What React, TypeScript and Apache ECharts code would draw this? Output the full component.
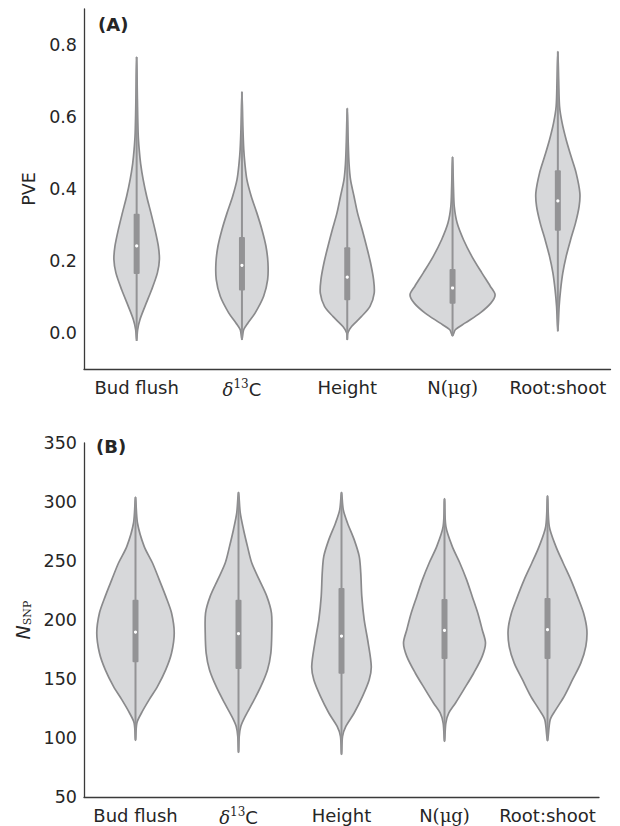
import React, { useEffect, useRef } from 'react';
import * as echarts from 'echarts';

// ---------- data ----------
const categories = ['Bud flush', 'δ13C', 'Height', 'N(μg)', 'Root:shoot'];
const categoryLabels = ['Bud flush', '{d|δ}{sup|13}C', 'Height', 'N{m|(μg)}', 'Root:shoot'];

const pveTicks = [0.0, 0.2, 0.4, 0.6, 0.8];
const nsnpTicks = [50, 100, 150, 200, 250, 300, 350];

// Violin profiles: [value, half-width as fraction of category band]
const pveBudFlush = [[-0.02, 0], [0.009, 0.009], [0.037, 0.031], [0.074, 0.079], [0.12, 0.142], [0.167, 0.197], [0.204, 0.216], [0.241, 0.206], [0.287, 0.174], [0.333, 0.136], [0.38, 0.095], [0.426, 0.062], [0.47, 0.038], [0.51, 0.024], [0.555, 0.014], [0.65, 0.007], [0.767, 0]];
const pveD13C = [[-0.018, 0], [0.009, 0.016], [0.028, 0.057], [0.056, 0.126], [0.102, 0.206], [0.148, 0.244], [0.195, 0.247], [0.241, 0.228], [0.287, 0.19], [0.333, 0.142], [0.38, 0.088], [0.426, 0.047], [0.47, 0.028], [0.51, 0.017], [0.57, 0.009], [0.67, 0]];
const pveHeight = [[-0.018, 0], [0.0, 0.005], [0.018, 0.041], [0.046, 0.136], [0.074, 0.216], [0.111, 0.256], [0.148, 0.25], [0.195, 0.221], [0.241, 0.183], [0.287, 0.142], [0.333, 0.098], [0.38, 0.064], [0.426, 0.031], [0.47, 0.017], [0.53, 0.009], [0.624, 0]];
const pveN = [[-0.008, 0], [0.009, 0.026], [0.028, 0.121], [0.056, 0.263], [0.083, 0.364], [0.106, 0.404], [0.13, 0.358], [0.167, 0.278], [0.213, 0.183], [0.259, 0.104], [0.306, 0.043], [0.352, 0.016], [0.4, 0.009], [0.489, 0]];
const pveRootShoot = [[0.005, 0], [0.074, 0.012], [0.12, 0.026], [0.167, 0.047], [0.213, 0.079], [0.259, 0.121], [0.306, 0.168], [0.352, 0.202], [0.389, 0.209], [0.444, 0.174], [0.49, 0.126], [0.537, 0.079], [0.583, 0.041], [0.63, 0.016], [0.7, 0.008], [0.782, 0]];

// [whisker low, q1, median, q3, whisker high]
const pveBoxes = [
  [-0.022, 0.164, 0.242, 0.331, 0.767],
  [-0.019, 0.118, 0.188, 0.267, 0.67],
  [-0.019, 0.091, 0.155, 0.238, 0.624],
  [-0.008, 0.081, 0.125, 0.178, 0.489],
  [0.005, 0.284, 0.367, 0.452, 0.782],
];

const snpBudFlush = [[98, 0], [112.7, 0.013], [121.2, 0.058], [132.5, 0.133], [143.7, 0.214], [157.9, 0.294], [172, 0.35], [189, 0.376], [205.9, 0.35], [220, 0.294], [234.2, 0.23], [248.3, 0.165], [262.4, 0.084], [282.2, 0.019], [304.2, 0]];
const snpD13C = [[87.8, 0], [101.4, 0.007], [109.8, 0.022], [118.3, 0.065], [129.7, 0.136], [143.7, 0.217], [157.9, 0.282], [172, 0.314], [189, 0.323], [205.9, 0.32], [220, 0.275], [234.2, 0.201], [248.3, 0.129], [262.4, 0.087], [276.5, 0.049], [290.7, 0.017], [308.2, 0]];
const snpHeight = [[86.1, 0], [101.4, 0.01], [109.8, 0.042], [121.2, 0.123], [135.3, 0.204], [149.4, 0.269], [160.7, 0.289], [180.5, 0.259], [200.3, 0.22], [220, 0.197], [239.8, 0.187], [253.9, 0.172], [268.1, 0.123], [282.2, 0.058], [293.5, 0.017], [308.2, 0]];
const snpN = [[97.1, 0], [112.7, 0.013], [121.2, 0.042], [129.7, 0.107], [141, 0.187], [155.1, 0.284], [169.2, 0.366], [180.5, 0.398], [191.8, 0.366], [205.9, 0.323], [220, 0.269], [234.2, 0.214], [248.3, 0.149], [262.4, 0.075], [279.3, 0.013], [302.8, 0]];
const snpRootShoot = [[97.7, 0], [115.5, 0.026], [124, 0.081], [135.3, 0.162], [149.4, 0.243], [163.4, 0.323], [177.6, 0.372], [191.8, 0.382], [205.9, 0.35], [220, 0.291], [234.2, 0.226], [248.3, 0.152], [262.4, 0.081], [279.3, 0.017], [305.3, 0]];

const snpBoxes = [
  [98.0, 164.1, 189.8, 217.2, 304.2],
  [87.8, 158.5, 188.4, 217.2, 308.2],
  [86.1, 154.5, 186.4, 227.1, 308.2],
  [97.1, 166.9, 191.2, 217.8, 302.8],
  [97.7, 166.9, 191.8, 218.6, 305.3],
];

const pveProfiles = [pveBudFlush, pveD13C, pveHeight, pveN, pveRootShoot];
const snpProfiles = [snpBudFlush, snpD13C, snpHeight, snpN, snpRootShoot];

// ---------- style ----------
const FILL = '#d7d8da';
const EDGE = '#8a8a8c';
const BOX = '#939395';
const AXIS = '#3a3a3a';
const TEXT = '#262626';
const SANS = 'DejaVu Sans';
const SERIF = 'DejaVu Serif';

function makeRenderItem(profiles: number[][][], boxes: number[][]) {
  return (params: any, api: any) => {
    const i = api.value(0);
    const prof = profiles[i];
    const box = boxes[i];
    const band = api.size([1, 0])[0];
    const cx = api.coord([i, 0])[0];
    const yOf = (v: number) => api.coord([i, v])[1];
    const right = prof.map(([v, w]) => [cx + w * band, yOf(v)]);
    const left = prof.slice(1, -1).reverse().map(([v, w]) => [cx - w * band, yOf(v)]);
    const pts = right.concat(left);
    return {
      type: 'group',
      children: [
        {
          type: 'polygon',
          shape: { points: pts, smooth: 0.3 },
          style: { fill: FILL, stroke: EDGE, lineWidth: 1.7 },
        },
        {
          type: 'line',
          shape: { x1: cx, y1: yOf(box[0]), x2: cx, y2: yOf(box[4]) },
          style: { stroke: BOX, lineWidth: 2 },
        },
        {
          type: 'rect',
          shape: { x: cx - 3, y: yOf(box[3]), width: 6, height: yOf(box[1]) - yOf(box[3]), r: 1 },
          style: { fill: BOX },
        },
        {
          type: 'circle',
          shape: { cx: cx, cy: yOf(box[2]), r: 1.6 },
          style: { fill: '#ffffff' },
        },
      ],
    };
  };
}

const richCat = {
  d: { fontFamily: SERIF, fontStyle: 'italic', fontSize: 18, color: TEXT },
  sup: { fontFamily: SERIF, fontSize: 12, color: TEXT, padding: [0, 0, 10, 0] },
  m: { fontFamily: SERIF, fontSize: 18, color: TEXT },
};

export default function App() {
  const ref = useRef<HTMLDivElement>(null);
  useEffect(() => {
    if (!ref.current) return;
    const chart = echarts.init(ref.current, null, { renderer: 'svg' });
    const xAxisBase = (gridIndex: number) => ({
      type: 'category',
      gridIndex,
      data: categories,
      boundaryGap: true,
      axisTick: { show: false },
      axisLine: { show: true, onZero: false, lineStyle: { color: AXIS, width: 1.3 } },
      splitLine: { show: false },
      axisLabel: {
        interval: 0,
        margin: 9,
        fontFamily: SANS,
        fontSize: 18,
        color: TEXT,
        formatter: (_v: string, idx: number) => categoryLabels[idx],
        rich: richCat,
      },
    });
    chart.setOption({
      animation: false,
      backgroundColor: '#ffffff',
      grid: [
        { left: 84, top: 9, width: 526.5, height: 360 },
        { left: 84, top: 443, width: 515, height: 354 },
      ],
      xAxis: [xAxisBase(0), xAxisBase(1)],
      yAxis: [
        {
          type: 'value',
          gridIndex: 0,
          min: -0.1,
          max: 0.9,
          interval: 0.1,
          name: 'PVE',
          nameLocation: 'middle',
          nameGap: 42,
          nameTextStyle: { fontFamily: SANS, fontSize: 17.5, color: TEXT },
          axisTick: { show: false },
          splitLine: { show: false },
          axisLine: { show: true, onZero: false, lineStyle: { color: AXIS, width: 1.3 } },
          axisLabel: {
            margin: 7,
            fontFamily: SANS,
            fontSize: 17.5,
            color: TEXT,
            formatter: (v: number) => {
              const t = pveTicks.find((x) => Math.abs(x - v) < 1e-6);
              return t === undefined ? '' : t.toFixed(1);
            },
          },
        },
        {
          type: 'value',
          gridIndex: 1,
          min: 50,
          max: 350,
          interval: 50,
          name: '{n|N}{s|SNP}',
          nameLocation: 'middle',
          nameGap: 50,
          nameTextStyle: {
            color: TEXT,
            rich: {
              n: { fontFamily: SANS, fontStyle: 'italic', fontSize: 19, color: TEXT },
              s: { fontFamily: SERIF, fontSize: 11, color: TEXT, padding: [9, 0, 0, 0] },
            },
          },
          axisTick: { show: false },
          splitLine: { show: false },
          axisLine: { show: true, onZero: false, lineStyle: { color: AXIS, width: 1.3 } },
          axisLabel: {
            margin: 7,
            fontFamily: SANS,
            fontSize: 17.5,
            color: TEXT,
            formatter: (v: number) => (nsnpTicks.includes(v) ? String(v) : ''),
          },
        },
      ],
      series: [
        {
          type: 'custom',
          xAxisIndex: 0,
          yAxisIndex: 0,
          renderItem: makeRenderItem(pveProfiles, pveBoxes),
          data: categories.map((_c, i) => [i, pveBoxes[i][2]]),
          encode: { x: 0, y: 1 },
          clip: false,
        },
        {
          type: 'custom',
          xAxisIndex: 1,
          yAxisIndex: 1,
          renderItem: makeRenderItem(snpProfiles, snpBoxes),
          data: categories.map((_c, i) => [i, snpBoxes[i][2]]),
          encode: { x: 0, y: 1 },
          clip: false,
        },
      ],
      graphic: [
        {
          type: 'text',
          left: 98,
          top: 15,
          style: { text: '(A)', font: `bold 18px "${SANS}"`, fill: TEXT },
        },
        {
          type: 'text',
          left: 96,
          top: 437,
          style: { text: '(B)', font: `bold 18px "${SANS}"`, fill: TEXT },
        },
      ],
    });
    return () => chart.dispose();
  }, []);
  return (
    <div
      ref={ref}
      style={{ position: 'absolute', left: 0, top: 0, width: 620, height: 826, background: '#fff' }}
    />
  );
}
